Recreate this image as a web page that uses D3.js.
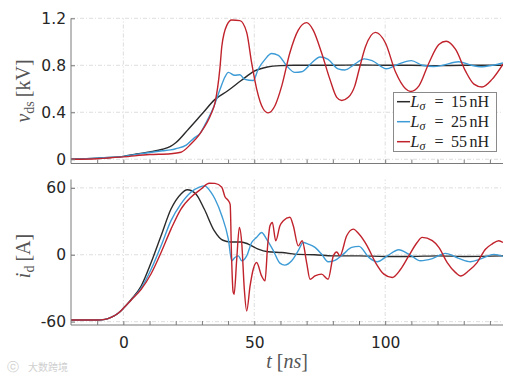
<!DOCTYPE html>
<html><head><meta charset="utf-8">
<script src="https://cdn.jsdelivr.net/npm/d3@7/dist/d3.min.js"></script>
<style>body{margin:0;background:#fff} svg{display:block}</style>
</head><body>
<svg id="c" width="517" height="381"></svg>
<script>
// ---------- data ----------
const seriesLabels = ["15 nH", "25 nH", "55 nH"];
const seriesColors = ["#2a2a2a", "#3d9bd6", "#c1232c"];

const vTicks = [0, 0.4, 0.8, 1.2];
const vTickLabels = ["0", "0.4", "0.8", "1.2"];
const iTicks = [-60, 0, 60];
const iTickLabels = ["-60", "0", "60"];
const tTicks = [0, 50, 100];
const tTickLabels = ["0", "50", "100"];
const tMinorTicks = [-10, 0, 10, 20, 30, 40, 50, 60, 70, 80, 90, 100, 110, 120, 130, 140];

// v_ds [kV], L = 15 nH
const tV15 = [-20, -10, 0, 5, 10, 15, 18, 20, 25, 30, 35, 40, 45, 50, 55, 60, 65, 70, 80, 90, 100, 110, 120, 130, 140, 145];
const vV15 = [0.0, 0.01, 0.025, 0.045, 0.062, 0.085, 0.11, 0.14, 0.26, 0.385, 0.51, 0.585, 0.67, 0.75, 0.785, 0.797, 0.80, 0.80, 0.80, 0.802, 0.80, 0.80, 0.797, 0.80, 0.80, 0.80];
// L = 25 nH
const tV25 = [-20, -10, 0, 5, 10, 15, 18, 20, 24, 27, 29.3, 32, 34.5, 37, 38.8, 40.1, 42.5, 44.5, 46.4, 49.6, 51.5, 54.1, 56.6, 59.2, 62.4, 65.5, 68.1, 71.9, 75.1, 78.2, 82, 84.6, 88.4, 92, 95, 100.5, 104, 110, 114.2, 118.5, 122, 128, 133, 136.5, 141, 145];
const vV25 = [0.0, 0.01, 0.025, 0.042, 0.058, 0.072, 0.08, 0.09, 0.12, 0.18, 0.22, 0.33, 0.445, 0.60, 0.70, 0.74, 0.715, 0.72, 0.68, 0.67, 0.766, 0.85, 0.90, 0.885, 0.795, 0.74, 0.745, 0.82, 0.87, 0.85, 0.77, 0.76, 0.81, 0.855, 0.84, 0.77, 0.80, 0.84, 0.80, 0.79, 0.80, 0.83, 0.80, 0.787, 0.80, 0.82];
// L = 55 nH
const tV55 = [-20, -10, 0, 10, 18, 22, 25.8, 29.5, 33.5, 35, 36.9, 37.6, 39.5, 41.4, 44.5, 47.1, 49, 50.9, 53.4, 55.3, 57.9, 60.5, 63.6, 66.8, 70, 72.5, 75.7, 78.9, 81.5, 83.4, 85.9, 88.4, 90, 92.5, 96.3, 100.1, 104, 107.8, 109.7, 112.9, 116.7, 120.5, 123.3, 126.9, 130.7, 133.9, 137, 140.8, 145];
const vV55 = [0.0, 0.005, 0.02, 0.04, 0.047, 0.06, 0.13, 0.225, 0.385, 0.48, 0.78, 0.96, 1.14, 1.185, 1.18, 1.08, 0.82, 0.60, 0.43, 0.395, 0.456, 0.625, 0.907, 1.10, 1.163, 1.10, 0.907, 0.68, 0.527, 0.50, 0.527, 0.625, 0.76, 0.96, 1.08, 0.99, 0.74, 0.60, 0.577, 0.625, 0.82, 0.977, 1.005, 0.935, 0.75, 0.64, 0.615, 0.68, 0.81];

// i_d [A], L = 15 nH
const tI15 = [-20, -10, -7, -4.5, -2, 0, 3, 6.8, 10.6, 14.4, 18.2, 22, 24.4, 27.7, 30.9, 34.7, 38, 41, 45, 47.7, 51.5, 55.3, 60.5, 66.8, 73, 80, 90, 100, 110, 120, 130, 145];
const iI15 = [-58.5, -58.5, -58, -56, -52.5, -48, -40, -28, -7, 17, 41, 54.6, 58.3, 54.6, 41, 21.6, 13, 11.5, 11.5, 9.6, 5, 2.7, 2, 0.3, 0, -1, -1, -1.5, -1.5, -1, -1.5, -1];
// L = 25 nH
const tI25 = [-20, -10, -7, -4.5, -2, 0, 3, 6.8, 10.6, 14.4, 18.2, 22, 25.8, 29, 31, 33.5, 35, 37.6, 40.1, 41.4, 42.6, 43.9, 45.2, 47.1, 49, 50.9, 52.8, 54.7, 57.3, 59.8, 61.7, 64.3, 66.8, 68.7, 70.6, 73.2, 75.7, 78.2, 80.8, 84, 87.2, 90, 93.8, 96.9, 100.8, 105.2, 109, 113.5, 118, 123, 128.1, 132.6, 137, 141.5, 145];
const iI25 = [-58.5, -58.5, -58, -56, -52.5, -48, -40.5, -30, -13, 8, 30.6, 45.6, 56, 60.6, 61.8, 56, 50, 35, 14, -5.4, -2.4, -1, -5.4, -1, 11, 15.6, 20, 14, 3.6, -7.5, -9.3, -5.4, 3.6, 11, 9.6, 6.6, 0.6, -6.3, -5, 0.6, 6.6, 7.5, -2.4, -6.3, -1, 4.5, 0.6, -5.4, -3.5, 1.2, -3.3, -6.3, -3.3, 0.3, -1.5];
// L = 55 nH
const tI55 = [-20, -10, -7, -4.5, -2, 0, 3, 6.8, 10.6, 14.4, 18.2, 22, 25.8, 29.7, 32.8, 35, 37.6, 38.8, 40.1, 40.8, 41.3, 41.9, 42.3, 43.3, 44.3, 45.2, 46.2, 47.1, 48.4, 49.6, 50.9, 52.8, 54.1, 55.1, 56, 56.9, 58.2, 59.8, 61.1, 63.6, 64.9, 66.8, 68.3, 70, 71.3, 73.2, 75.7, 78.2, 80.2, 81.5, 82.7, 85.3, 87.8, 90, 93.1, 96.3, 99.5, 102.7, 105.9, 109, 112.2, 114.1, 118, 120.5, 123.7, 126.9, 128.8, 131.9, 135.1, 138.3, 140.8, 143.4, 145];
const iI55 = [-58.5, -58.5, -58, -56, -52.5, -48, -40.5, -31, -17, 2, 23, 41, 51.6, 59, 64.2, 64, 60.6, 52, 48.6, 45, 0, -33, -35.4, -3.9, 24.6, 11, -31, -50.4, -28, -13, -7, -19, -23.4, 8, 26, 29, 12.6, 26, 30.6, 33.6, 26, 8, 12.6, -7, -22, -19, -17.4, -22, -1, 2.5, -1, 17, 23, 18.6, 8, -7, -17.4, -20.4, -13, -1, 11, 15.6, 12.6, 6.6, -7, -16, -19, -14.4, -7, 5, 9.6, 12.6, 11];

// ---------- drawing ----------
const svg = d3.select("#c");
const L = 71, R = 503;
const x = d3.scaleLinear().domain([-20, 145]).range([L, R]);
const yV = d3.scaleLinear().domain([-0.036, 1.2]).range([163.5, 18.3]);
const yI = d3.scaleLinear().domain([-63, 67.5]).range([325, 179.5]);

const tickFont = "'DejaVu Sans', 'Liberation Sans', Arial, sans-serif";
const serif = "'Liberation Serif', 'DejaVu Serif', serif";

const clip = svg.append("defs");
function panel(y, yTicks, yLabels, seriesT, seriesY, showX, id) {
  const [y0, y1] = y.range();
  clip.append("clipPath").attr("id", id).append("rect")
    .attr("x", L).attr("y", y1).attr("width", R - L).attr("height", y0 - y1);
  const g = svg.append("g");
  // grid
  g.selectAll(".gv").data(tTicks).enter().append("line")
    .attr("x1", d => x(d)).attr("x2", d => x(d)).attr("y1", y0).attr("y2", y1)
    .attr("stroke", "#d6d6d6").attr("stroke-width", 0.8).attr("stroke-dasharray", "4,2,1,2");
  g.selectAll(".gh").data(yTicks).enter().append("line")
    .attr("x1", L).attr("x2", R).attr("y1", d => y(d)).attr("y2", d => y(d))
    .attr("stroke", "#d6d6d6").attr("stroke-width", 0.8).attr("stroke-dasharray", "4,2,1,2");
  // lines
  const lg = g.append("g").attr("clip-path", `url(#${id})`);
  seriesT.forEach((ts, k) => {
    const pts = ts.map((t, j) => [t, seriesY[k][j]]);
    lg.append("path").datum(pts)
      .attr("fill", "none").attr("stroke", seriesColors[k]).attr("stroke-width", 1.4)
      .attr("stroke-linejoin", "round")
      .attr("d", d3.line().x(d => x(d[0])).y(d => y(d[1])).curve(d3.curveMonotoneX));
  });
  // axes
  const ax = d3.axisBottom(x).tickValues(tMinorTicks).tickSizeInner(-4).tickSizeOuter(0)
    .tickPadding(11.5)
    .tickFormat(d => showX && tTicks.includes(d) ? tTickLabels[tTicks.indexOf(d)] : "");
  const gx = g.append("g").attr("transform", `translate(0,${y0})`).call(ax);
  const ay = d3.axisLeft(y).tickValues(yTicks).tickSizeInner(-4).tickSizeOuter(0)
    .tickPadding(5).tickFormat((d, i) => yLabels[i]);
  const gy = g.append("g").attr("transform", `translate(${L},0)`).call(ay);
  [gx, gy].forEach(a => {
    a.select(".domain").attr("stroke", "#7a7a7a").attr("stroke-width", 1);
    a.selectAll(".tick line").attr("stroke", "#7a7a7a");
    a.selectAll("text").attr("font-family", tickFont).attr("font-size", 15.5).attr("fill", "#262626");
  });
  gy.select(".domain").attr("d", `M0,${y0}V${y1}`);
  gx.select(".domain").attr("d", `M${L},0H${R}`);
  return g;
}

panel(yV, vTicks, vTickLabels, [tV15, tV25, tV55], [vV15, vV25, vV55], false, "cp1");
panel(yI, iTicks, iTickLabels, [tI15, tI25, tI55], [iI15, iI25, iI55], true, "cp2");

// axis labels
const labColor = "#555";
const lab1 = svg.append("text").attr("transform", "translate(30,91) rotate(-90)")
  .attr("text-anchor", "middle").attr("font-family", serif).attr("font-size", 20).attr("fill", labColor);
lab1.append("tspan").attr("font-style", "italic").text("v");
lab1.append("tspan").attr("font-size", 14).attr("dy", 4).text("ds");
lab1.append("tspan").attr("dy", -4).text("\u2009[kV]");

const lab2 = svg.append("text").attr("transform", "translate(30,256) rotate(-90)")
  .attr("text-anchor", "middle").attr("font-family", serif).attr("font-size", 20).attr("fill", labColor);
lab2.append("tspan").attr("font-style", "italic").text("i");
lab2.append("tspan").attr("font-size", 14).attr("dy", 4).text("d");
lab2.append("tspan").attr("dy", -4).text("\u2009[A]");

const lab3 = svg.append("text").attr("x", 287).attr("y", 368)
  .attr("text-anchor", "middle").attr("font-family", serif).attr("font-size", 20).attr("fill", labColor);
lab3.append("tspan").attr("font-style", "italic").text("t");
lab3.append("tspan").text(" [");
lab3.append("tspan").attr("font-style", "italic").text("ns");
lab3.append("tspan").text("]");

// legend
const lgd = svg.append("g");
lgd.append("rect").attr("x", 393.5).attr("y", 92.5).attr("width", 103).attr("height", 59)
  .attr("fill", "#fff").attr("stroke", "#8a8a8a").attr("stroke-width", 1);
seriesLabels.forEach((s, k) => {
  const yy = 101.7 + k * 20;
  lgd.append("line").attr("x1", 397).attr("x2", 410).attr("y1", yy).attr("y2", yy)
    .attr("stroke", seriesColors[k]).attr("stroke-width", 1.5);
  const t = lgd.append("text").attr("y", yy + 5.5).attr("font-family", serif).attr("font-size", 16).attr("fill", "#222");
  t.append("tspan").attr("x", 410.5).attr("font-style", "italic").text("L");
  t.append("tspan").attr("x", 419.5).attr("dy", 3).attr("font-size", 12).attr("font-style", "italic").text("σ");
  t.append("tspan").attr("x", 434.5).attr("dy", -3).text("=");
  t.append("tspan").attr("x", 451).text(s.split(" ")[0]);
  t.append("tspan").attr("x", 469.5).text(s.split(" ")[1]);
});

// watermark
const wm = svg.append("g").attr("fill", "#cfcfcf");
wm.append("text").attr("x", 7).attr("y", 371).attr("font-family", tickFont).attr("font-size", 12).text("\u24D2");
wm.append("text").attr("x", 28).attr("y", 371).attr("font-family", "'Noto Sans CJK SC', sans-serif").attr("font-size", 10).text("大数跨境");
</script>
</body></html>
